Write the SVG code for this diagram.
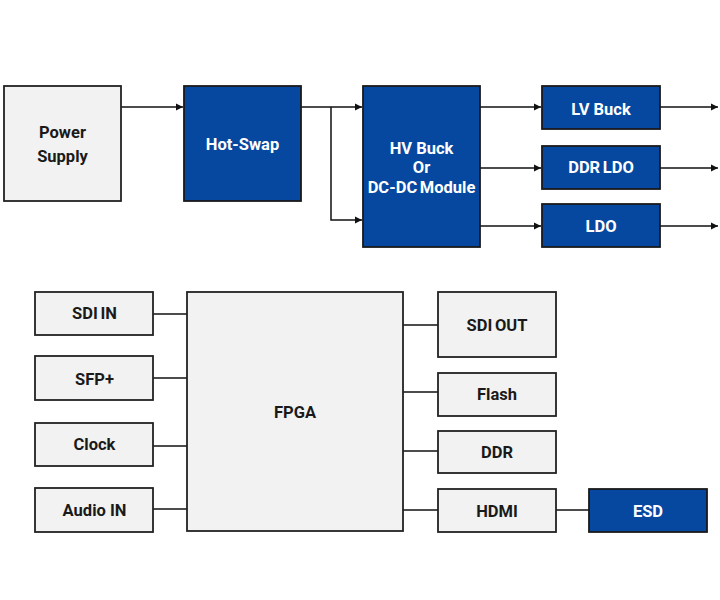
<svg xmlns="http://www.w3.org/2000/svg" width="720" height="600" viewBox="0 0 720 600">
<style>
.g{fill:#f2f2f2;stroke:#222;stroke-width:1.8}
.b{fill:#0648a0;stroke:#1a1a1a;stroke-width:1.8}
.t{font-family:Roboto,"Liberation Sans",sans-serif;font-weight:bold;font-size:16.5px;text-anchor:middle}
.n{word-spacing:-1.5px}
.tw{fill:#fff}
.tk{fill:#1a1a1a}
.c{stroke:#111;stroke-width:1.5;fill:none}
</style>
<defs>
<marker id="ah" markerWidth="8" markerHeight="8" refX="7" refY="4" orient="auto" markerUnits="userSpaceOnUse">
<path d="M0,0.5 L7,4 L0,7.5 Z" fill="#111"/>
</marker>
</defs>
<rect width="720" height="600" fill="#fff"/>
<g id="connectors">
<line class="c" x1="121" y1="107" x2="183" y2="107" marker-end="url(#ah)"/>
<line class="c" x1="301" y1="107" x2="362" y2="107" marker-end="url(#ah)"/>
<polyline class="c" points="331,107 331,220 362,220" marker-end="url(#ah)"/>
<line class="c" x1="480" y1="107" x2="541" y2="107" marker-end="url(#ah)"/>
<line class="c" x1="480" y1="168" x2="541" y2="168" marker-end="url(#ah)"/>
<line class="c" x1="480" y1="226" x2="541" y2="226" marker-end="url(#ah)"/>
<line class="c" x1="660" y1="107" x2="718" y2="107" marker-end="url(#ah)"/>
<line class="c" x1="660" y1="168" x2="718" y2="168" marker-end="url(#ah)"/>
<line class="c" x1="660" y1="226" x2="718" y2="226" marker-end="url(#ah)"/>
<line class="c" x1="153" y1="314" x2="187" y2="314"/>
<line class="c" x1="153" y1="378" x2="187" y2="378"/>
<line class="c" x1="153" y1="446" x2="187" y2="446"/>
<line class="c" x1="153" y1="509" x2="187" y2="509"/>
<line class="c" x1="403" y1="325" x2="438" y2="325"/>
<line class="c" x1="403" y1="392" x2="438" y2="392"/>
<line class="c" x1="403" y1="451" x2="438" y2="451"/>
<line class="c" x1="403" y1="510" x2="438" y2="510"/>
<line class="c" x1="556" y1="510" x2="589" y2="510"/>
</g>
<g id="power-supply"><rect class="g" x="4" y="86" width="117" height="115"/><text class="t tk" x="62.5" y="138">Power</text><text class="t tk" x="62.5" y="162">Supply</text></g>
<g id="hot-swap"><rect class="b" x="184" y="86" width="117" height="115"/><text class="t tw" x="242.5" y="150">Hot-Swap</text></g>
<g id="hv-buck"><rect class="b" x="363" y="86" width="117" height="161"/><text class="t tw" x="421.5" y="153.5">HV Buck</text><text class="t tw" x="421.5" y="172.5">Or</text><text class="t tw n" x="421.5" y="192.5">DC-DC Module</text></g>
<g id="lv-buck"><rect class="b" x="542" y="86" width="118" height="43"/><text class="t tw" x="601" y="114.5">LV Buck</text></g>
<g id="ddr-ldo"><rect class="b" x="542" y="146" width="118" height="43"/><text class="t tw n" x="601" y="173">DDR LDO</text></g>
<g id="ldo"><rect class="b" x="542" y="204" width="118" height="43"/><text class="t tw" x="601" y="231.5">LDO</text></g>
<g id="sdi-in"><rect class="g" x="35" y="292" width="118" height="43"/><text class="t tk n" x="94.5" y="319">SDI IN</text></g>
<g id="sfp"><rect class="g" x="35" y="356" width="118" height="44"/><text class="t tk" x="94.5" y="384.5">SFP+</text></g>
<g id="clock"><rect class="g" x="35" y="423" width="118" height="43"/><text class="t tk" x="94.5" y="450">Clock</text></g>
<g id="audio-in"><rect class="g" x="35" y="488" width="118" height="44"/><text class="t tk" x="94.5" y="516">Audio IN</text></g>
<g id="fpga"><rect class="g" x="187" y="292" width="216" height="239"/><text class="t tk" x="295" y="418">FPGA</text></g>
<g id="sdi-out"><rect class="g" x="438" y="292" width="118" height="65"/><text class="t tk n" x="497" y="330.5">SDI OUT</text></g>
<g id="flash"><rect class="g" x="438" y="373" width="118" height="43"/><text class="t tk" x="497" y="400">Flash</text></g>
<g id="ddr"><rect class="g" x="438" y="431" width="118" height="42"/><text class="t tk" x="497" y="458">DDR</text></g>
<g id="hdmi"><rect class="g" x="438" y="489" width="118" height="43"/><text class="t tk" x="497" y="516.5">HDMI</text></g>
<g id="esd"><rect class="b" x="589" y="489" width="118" height="43"/><text class="t tw" x="648" y="516.5">ESD</text></g>
</svg>
